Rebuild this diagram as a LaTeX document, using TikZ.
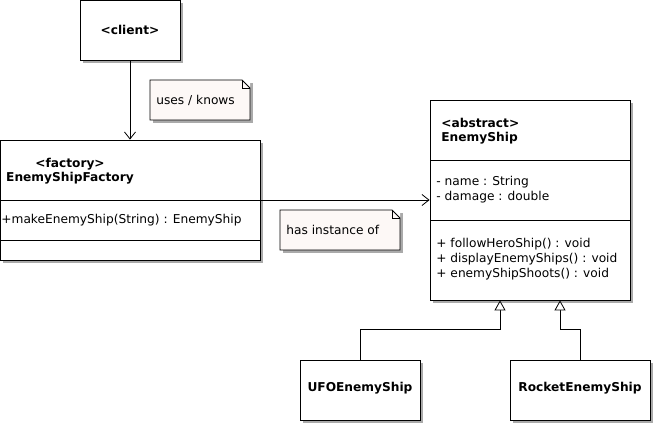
\documentclass[tikz,border=0pt]{standalone}
\usepackage{fontspec}
\setmainfont{DejaVu Sans}
\usetikzlibrary{positioning,arrows.meta,calc}
\definecolor{umlnote}{RGB}{253,248,246}
\definecolor{umlshadow}{RGB}{170,170,170}

\begin{document}
\begin{tikzpicture}[x=1pt, y=-1pt, line width=0.8pt,
    every node/.style={font=\fontsize{12.2}{15}\selectfont}]
  \tikzset{
    umlbox/.style={draw, fill=white, rectangle, inner sep=0pt},
    umltext/.style={inner sep=0pt, align=left},
    umlbold/.style={umltext, font=\bfseries\fontsize{12.2}{14.5}\selectfont},
    notepaper/.style={draw, fill=umlnote},
    assoc/.style={-{Straight Barb[length=7pt, width=11pt]}},
    inherit/.style={-{Triangle[open, length=10pt, width=11pt, fill=white]}}
  }
  \useasboundingbox (0,0) rectangle (655,425);

  % shadows
  \foreach \x/\y/\w/\h in {80/0/100/60, 0/140/260/120, 430/100/200/200, 300/360/120/60,
      510/360/140/60, 150/80/100/40, 280/210/120/40}
    \fill[umlshadow] (\x+3,\y+3) rectangle (\x+\w+3,\y+\h+3);

  % class boxes
  \node[umlbox, minimum width=100pt, minimum height=60pt]  (client)  at (130,30)  {};
  \node[umlbox, minimum width=260pt, minimum height=120pt] (factory) at (130,200) {};
  \node[umlbox, minimum width=200pt, minimum height=200pt] (enemy)   at (530,200) {};
  \node[umlbox, minimum width=120pt, minimum height=60pt]  (ufo)     at (360,390) {};
  \node[umlbox, minimum width=140pt, minimum height=60pt]  (rocket)  at (580,390) {};

  \draw (0,200) -- (260,200);
  \draw (0,240) -- (260,240);
  \draw (430,160) -- (630,160);
  \draw (430,220) -- (630,220);

  \node[umlbold] (clientname) at (130,30) {<client>};
  \node[umlbold, align=center] (factoryname) at (70,171) {<factory>\\EnemyShipFactory};
  \node[umltext, anchor=west] (factoryops) at (1,220) {+makeEnemyShip(String) : EnemyShip};
  \node[umlbold, anchor=west] (enemyname) at (441,131) {<abstract>\\EnemyShip};
  \node[umltext, anchor=west] (enemyattr) at (436,190) {- name : String\\- damage : double};
  \node[umltext, anchor=west] (enemyops) at (436,259) {+ followHeroShip() : void\\+ displayEnemyShips() : void\\+ enemyShipShoots() : void};
  \node[umlbold] (ufoname) at (360,388) {UFOEnemyShip};
  \node[umlbold] (rocketname) at (580,388) {RocketEnemyShip};

  % notes
  \fill[white] (242,80) -- (250,80) -- (250,88) -- cycle;
  \draw[notepaper] (150,80) -- (242,80) -- (250,88) -- (250,120) -- (150,120) -- cycle;
  \draw (242,80) |- (250,88);
  \node[umltext, anchor=west] (usesnote) at (156,100) {uses / knows};
  \fill[white] (392,210) -- (400,210) -- (400,218) -- cycle;
  \draw[notepaper] (280,210) -- (392,210) -- (400,218) -- (400,250) -- (280,250) -- cycle;
  \draw (392,210) |- (400,218);
  \node[umltext, anchor=west] (instnote) at (286,230) {has instance of};

  % connectors
  \draw[assoc] (client) -- (factory);
  \draw[assoc] (factory) -- (enemy);
  \draw[inherit] (ufo.north) -- ++(0,-30) -| ([xshift=-30pt]enemy.south);
  \draw[inherit] (rocket.north) -- ++(0,-30) -| ([xshift=30pt]enemy.south);
\end{tikzpicture}
\end{document}
